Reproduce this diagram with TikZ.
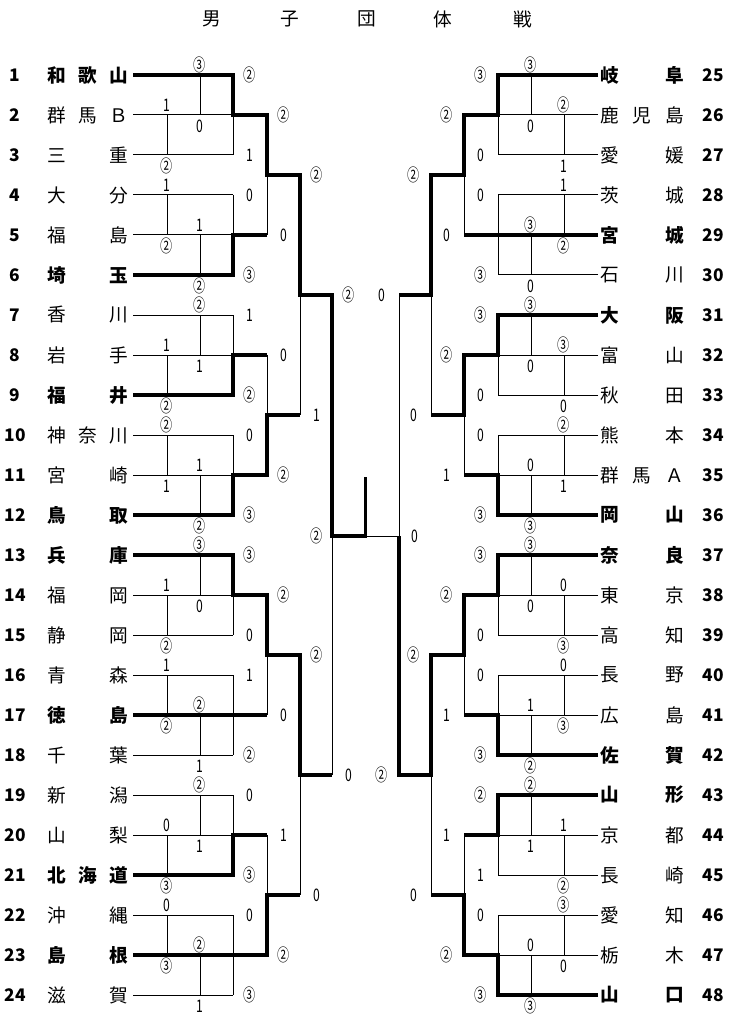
\documentclass[tikz,border=0pt]{standalone}
\usepackage{fontspec}
\setmainfont{Noto Sans CJK JP}
\newfontfamily\scorefont{Noto Sans CJK JP}[FakeStretch=0.7]
\tikzset{line/.style={line width=0.75pt}, win/.style={line width=2.4pt},
team/.style={anchor=west, inner sep=0pt, text width=60.5pt, font=\fontsize{14}{14}\selectfont},
rteam/.style={team, text width=62.8pt},
num/.style={inner sep=0pt, font=\fontsize{13}{13}\selectfont\bfseries},
score/.style={inner sep=0pt, font=\scorefont\fontsize{13}{13}\selectfont},
head/.style={inner sep=0pt, font=\fontsize{14}{14}\selectfont}}

% one league of three: group, winner row, scores ab, bc, ac, second round
\newcommand{\leaguebox}[9]{%
  \pgfmathtruncatemacro{\ya}{75+120*(#1-1)}%
  \pgfmathtruncatemacro{\yb}{\ya+40}%
  \pgfmathtruncatemacro{\yc}{\ya+80}%
  \pgfmathtruncatemacro{\yw}{\ya+40*(#2-1)}%
  \ifodd#1 \def\xab{200}\def\xbc{167}\else\def\xab{167}\def\xbc{200}\fi
  \foreach \y in {\ya,\yb,\yc} \draw[line] (133,\y) -- (233,\y);
  \draw[line] (\xab,\ya) -- (\xab,\yb);
  \draw[line] (\xbc,\yb) -- (\xbc,\yc);
  \draw[line] (233,\ya) -- (233,\yc);
  \ifnum#2=2 \draw[win] (133,\yb) -- (267,\yb);
  \else \draw[win] (133,\yw) -- (233,\yw) -- (233,\yb) -- (267,\yb);\fi
  \node[score] (\side#1abt) at (\xab,\ya-10) {#3};
  \node[score] (\side#1abb) at (\xab,\yb+11) {#4};
  \node[score] (\side#1bct) at (\xbc,\yb-10) {#5};
  \node[score] (\side#1bcb) at (\xbc,\yc+11) {#6};
  \node[score] (\side#1act) at (250,\ya) {#7};
  \node[score] (\side#1acb) at (250,\yc) {#8};
  \node[score] (\side#1rd) at (284,\yb) {#9};
}

\begin{document}
\begin{tikzpicture}[x=0.75pt,y=-0.75pt]
\path[fill=white, use as bounding box] (0,0) rectangle (732,1030);

% Title
\foreach \c/\x [count=\k] in {男/212,子/290,団/367,体/443,戦/523}
  \node[head] (head\k) at (\x,19) {\c};

% Teams
\foreach \nm [count=\r] in {\bfseries 和\hfill 歌\hfill 山, 群\hfill 馬\hfill Ｂ, 三\hfill 重,
  大\hfill 分, 福\hfill 島, \bfseries 埼\hfill 玉, 香\hfill 川, 岩\hfill 手, \bfseries 福\hfill 井,
  神\hfill 奈\hfill 川, 宮\hfill 崎, \bfseries 鳥\hfill 取, \bfseries 兵\hfill 庫, 福\hfill 岡,
  静\hfill 岡, 青\hfill 森, \bfseries 徳\hfill 島, 千\hfill 葉, 新\hfill 潟, 山\hfill 梨,
  \bfseries 北\hfill 海\hfill 道, 沖\hfill 縄, \bfseries 島\hfill 根, 滋\hfill 賀}{
  \node[num] (n\r) at (15,{75+40*(\r-1)}) {\r};
  \node[team] (t\r) at (47.7,{75+40*(\r-1)}) {\nm};
}
\foreach \nm [count=\r from 25] in {\bfseries 岐\hfill 阜, 鹿\hfill 児\hfill 島, 愛\hfill 媛,
  茨\hfill 城, \bfseries 宮\hfill 城, 石\hfill 川, \bfseries 大\hfill 阪, 富\hfill 山, 秋\hfill 田,
  熊\hfill 本, 群\hfill 馬\hfill Ａ, \bfseries 岡\hfill 山, \bfseries 奈\hfill 良, 東\hfill 京,
  高\hfill 知, 長\hfill 野, 広\hfill 島, \bfseries 佐\hfill 賀, \bfseries 山\hfill 形, 京\hfill 都,
  長\hfill 崎, 愛\hfill 知, 栃\hfill 木, \bfseries 山\hfill 口}{
  \node[num] (n\r) at (713,{75+40*(\r-25)}) {\r};
  \node[rteam] (t\r) at (600,{75+40*(\r-25)}) {\nm};
}

% Left half
\begin{scope}
\def\side{L}
\leaguebox{1}{1}{③}{0}{1}{②}{②}{1}{②}
\leaguebox{2}{3}{1}{②}{1}{②}{0}{③}{0}
\leaguebox{3}{3}{②}{1}{1}{②}{1}{②}{0}
\leaguebox{4}{3}{②}{1}{1}{②}{0}{③}{②}
\leaguebox{5}{1}{③}{0}{1}{②}{③}{0}{②}
\leaguebox{6}{2}{1}{②}{②}{1}{1}{②}{0}
\leaguebox{7}{3}{②}{1}{0}{③}{0}{③}{1}
\leaguebox{8}{2}{0}{③}{②}{1}{0}{③}{②}
\foreach \t/\b/\w in {115/235/115, 355/475/475, 595/715/595, 835/955/955}{
  \draw[line] (267,\t) -- (267,\b);
  \draw[win] (233,\w) -- (267,\w) -- (267,{(\t+\b)/2}) -- (300,{(\t+\b)/2});
}
\foreach \t/\b in {175/415, 655/895}{
  \draw[line] (300,\t) -- (300,\b);
  \draw[win] (267,\t) -- (300,\t) -- (300,{(\t+\b)/2}) -- (332,{(\t+\b)/2});
}
\foreach \y/\s [count=\k] in {175/②, 415/1, 655/②, 895/0}
  \node[score] (Lq\k) at (317,\y) {\s};
\end{scope}

% Right half (mirrored)
\begin{scope}[shift={(731,0)}, xscale=-1]
\def\side{R}
\leaguebox{1}{1}{③}{0}{②}{1}{③}{0}{②}
\leaguebox{2}{2}{1}{②}{③}{0}{0}{③}{0}
\leaguebox{3}{1}{③}{0}{③}{0}{③}{0}{②}
\leaguebox{4}{3}{②}{1}{0}{③}{0}{③}{1}
\leaguebox{5}{1}{③}{0}{0}{③}{③}{0}{②}
\leaguebox{6}{3}{0}{③}{1}{②}{0}{③}{1}
\leaguebox{7}{1}{②}{1}{1}{②}{②}{1}{1}
\leaguebox{8}{3}{③}{0}{0}{③}{0}{③}{②}
\foreach \t/\b/\w in {115/235/115, 355/475/355, 595/715/595, 835/955/955}{
  \draw[line] (267,\t) -- (267,\b);
  \draw[win] (233,\w) -- (267,\w) -- (267,{(\t+\b)/2}) -- (300,{(\t+\b)/2});
}
\foreach \t/\b in {175/415, 655/895}{
  \draw[line] (300,\t) -- (300,\b);
  \draw[win] (267,\t) -- (300,\t) -- (300,{(\t+\b)/2}) -- (332,{(\t+\b)/2});
}
\foreach \y/\s [count=\k] in {175/②, 415/0, 655/②, 895/0}
  \node[score] (Rq\k) at (317,\y) {\s};
\end{scope}

% Semifinals and final
\draw[line] (332,295) -- (332,775);
\draw[line] (399,295) -- (399,775);
\draw[line] (332,536) -- (399,536);
\draw[win] (300,295) -- (332,295) -- (332,536) -- (365.5,536) -- (365.5,477);
\draw[win] (432,775) -- (399,775) -- (399,536);
\node[score] (s1l) at (349,295) {②};
\node[score] (s1r) at (382,295) {0};
\node[score] (s2l) at (349,775) {0};
\node[score] (s2r) at (382,775) {②};
\node[score] (fl) at (317,536) {②};
\node[score] (fr) at (415,536) {0};
\end{tikzpicture}
\end{document}
